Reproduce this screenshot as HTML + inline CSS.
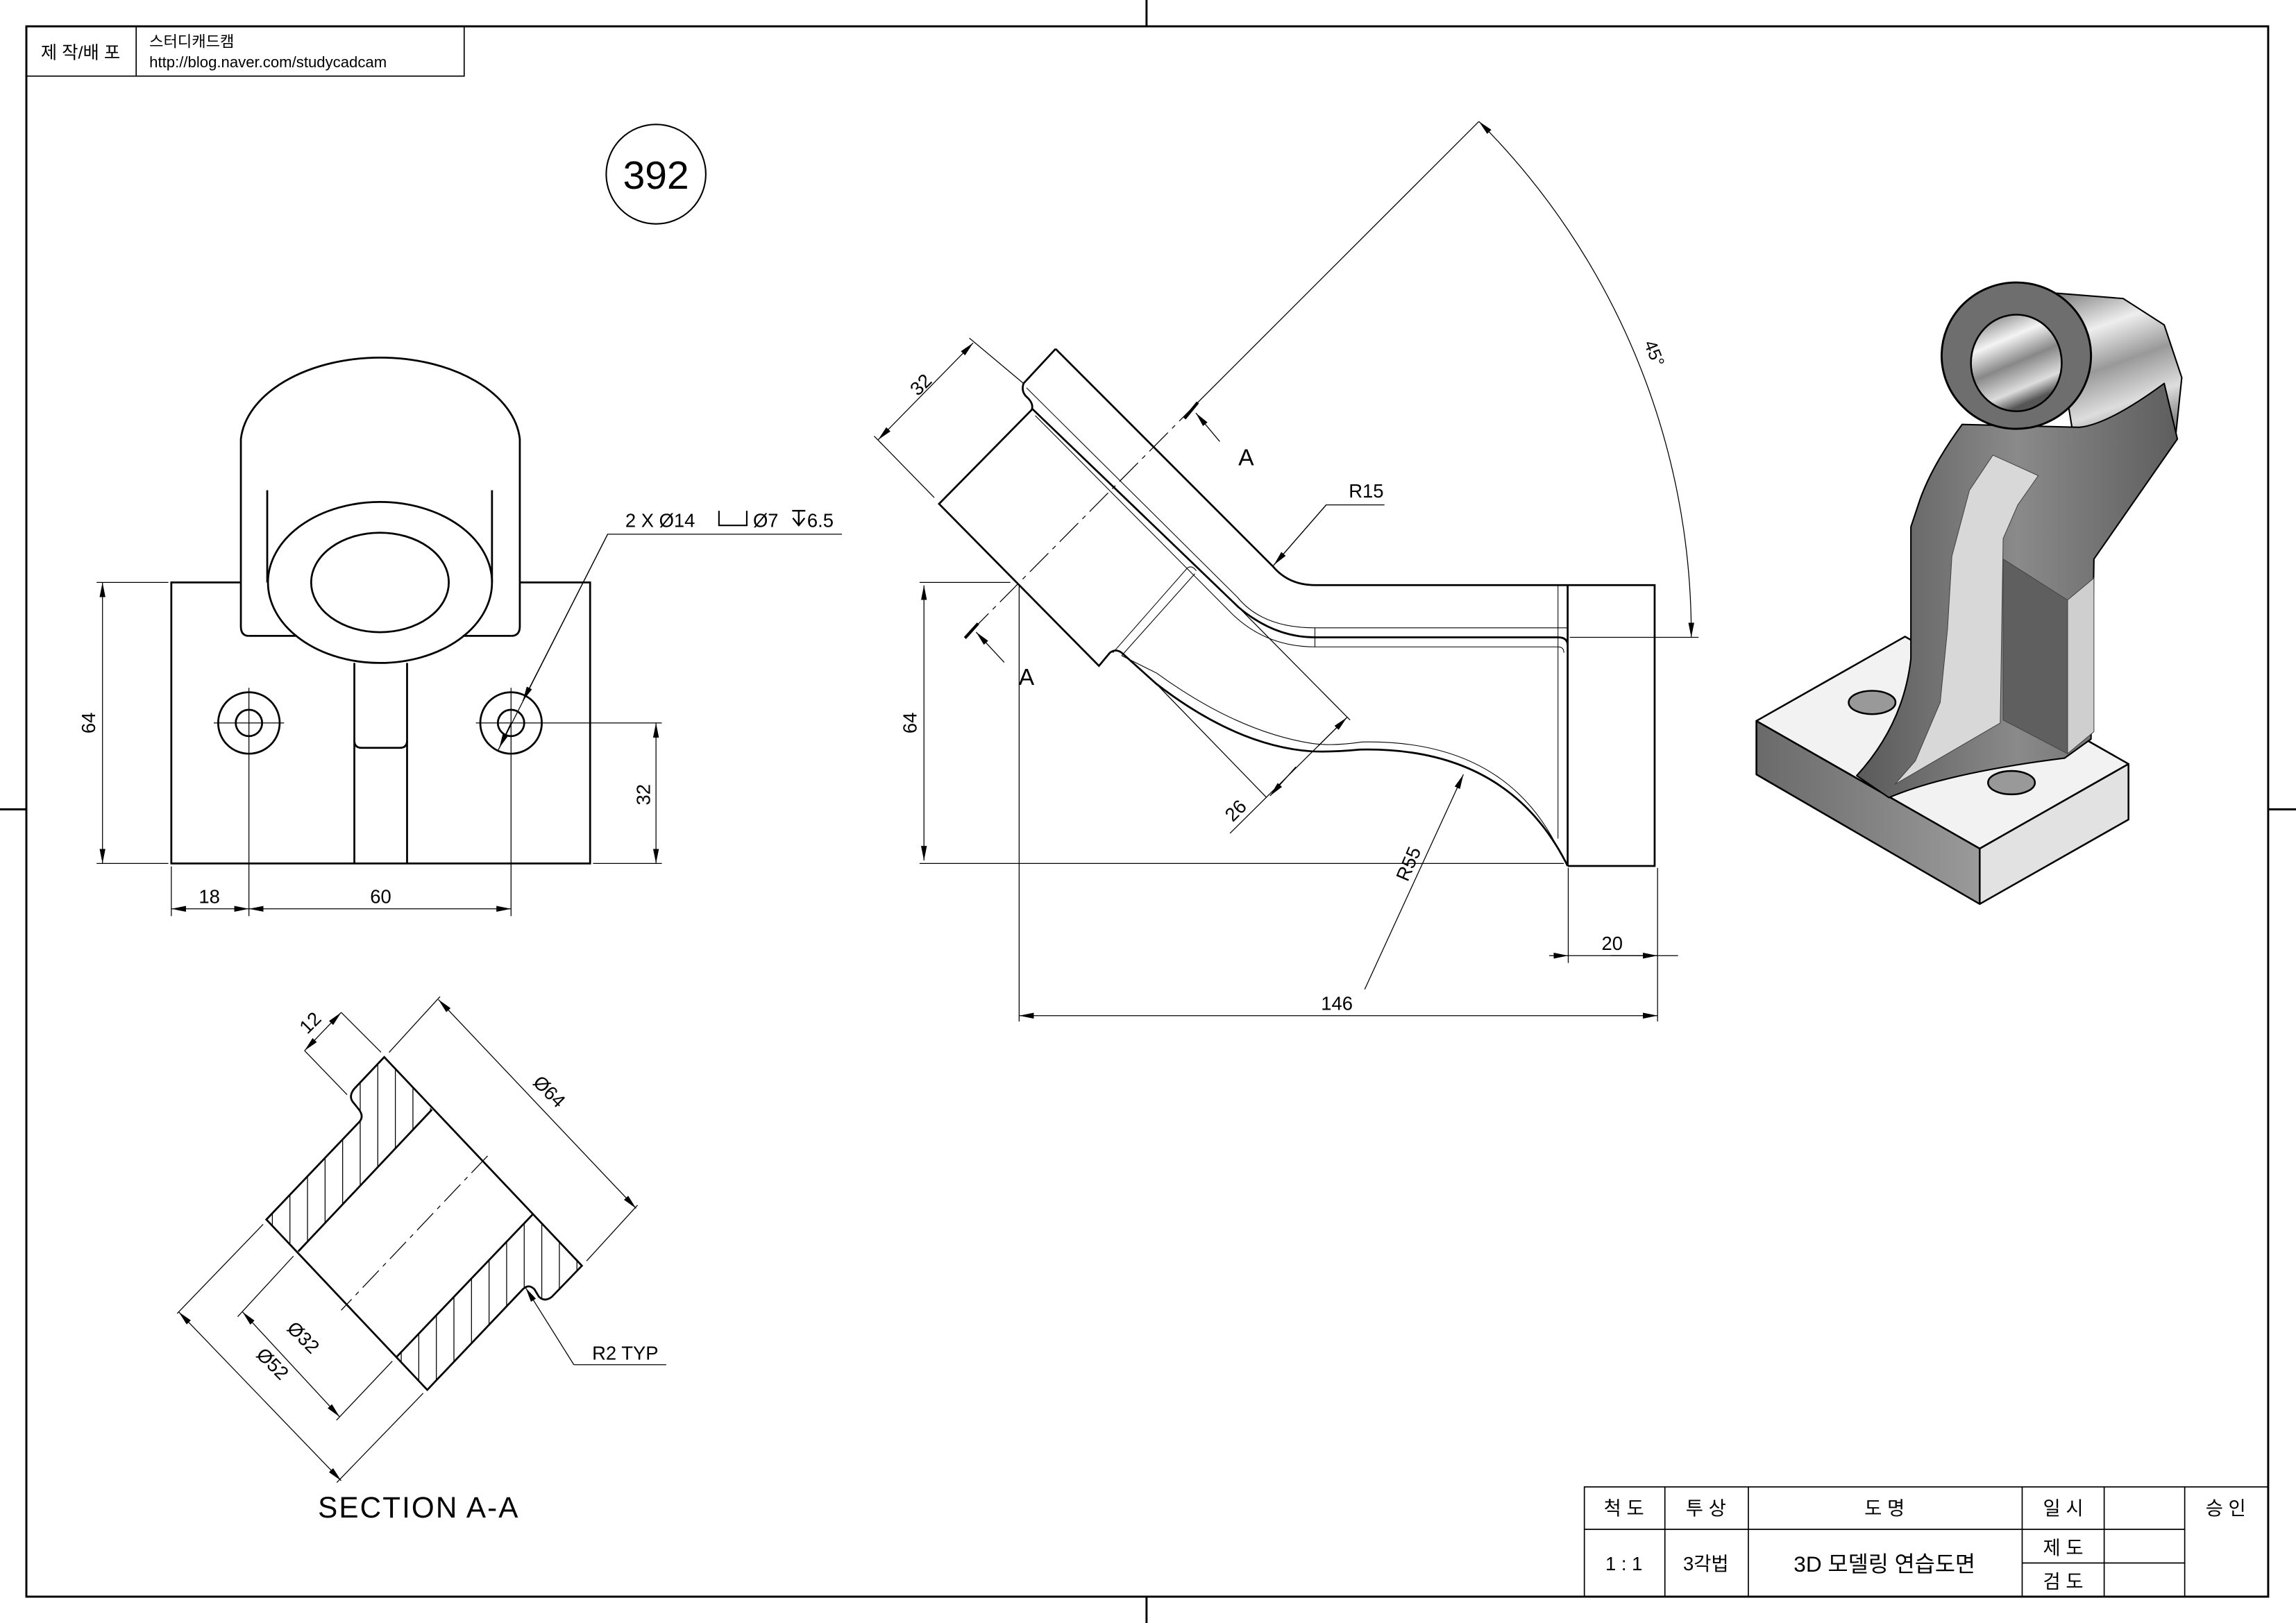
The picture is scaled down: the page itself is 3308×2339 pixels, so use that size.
<!DOCTYPE html>
<html><head><meta charset="utf-8"><style>
html,body{margin:0;padding:0;background:#fff;}
svg{display:block;}
text{font-family:"Liberation Sans","Noto Sans CJK KR",sans-serif;fill:#000;}
</style></head><body>
<svg width="3308" height="2339" viewBox="0 0 1568 1109" preserveAspectRatio="none" xmlns="http://www.w3.org/2000/svg">
<defs>
<marker id="ar" viewBox="0 0 10 4" refX="10" refY="2" markerWidth="10" markerHeight="4" markerUnits="userSpaceOnUse" orient="auto-start-reverse"><path d="M0,0 L10,2 L0,4 z" fill="#000"/></marker>
<linearGradient id="gArm" x1="0" y1="0" x2="1" y2="0"><stop offset="0" stop-color="#5a5a5a"/><stop offset="0.5" stop-color="#8a8a8a"/><stop offset="1" stop-color="#5e5e5e"/></linearGradient>
<linearGradient id="gCyl" x1="0" y1="0" x2="0.3" y2="1"><stop offset="0" stop-color="#777"/><stop offset="0.3" stop-color="#eee"/><stop offset="0.55" stop-color="#999"/><stop offset="0.8" stop-color="#ddd"/><stop offset="1" stop-color="#888"/></linearGradient>
<linearGradient id="gBore" x1="0" y1="0" x2="0.4" y2="1"><stop offset="0" stop-color="#666"/><stop offset="0.35" stop-color="#f4f4f4"/><stop offset="0.6" stop-color="#888"/><stop offset="0.85" stop-color="#ddd"/><stop offset="1" stop-color="#555"/></linearGradient>
<linearGradient id="gFront" x1="0" y1="0" x2="1" y2="0"><stop offset="0" stop-color="#6a6a6a"/><stop offset="1" stop-color="#9a9a9a"/></linearGradient>
<clipPath id="h1"><polygon points="262.4,722.3 241.8,744.1 239.6,749.5 246.1,760.3 247.2,764.6 181.9,833.3 203.7,855.1 295,758.2"/></clipPath>
<clipPath id="h2"><polygon points="271.1,926.9 291.8,949.7 357.8,880 364,881 368,887 372,889 378,886 397.4,864.9 363.6,830"/></clipPath>
</defs>

<!-- sheet border -->
<rect x="18" y="18" width="1531" height="1073" fill="none" stroke="#000" stroke-width="1.4"/>
<g stroke="#000" stroke-width="1.4">
<line x1="783" y1="0" x2="783" y2="18"/><line x1="783" y1="1091" x2="783" y2="1109"/>
<line x1="0" y1="553" x2="18" y2="553"/><line x1="1549" y1="553" x2="1568" y2="553"/>
</g>

<!-- header -->
<rect x="18" y="18" width="299" height="34" fill="none" stroke="#000" stroke-width="0.8"/>
<line x1="93" y1="18" x2="93" y2="52" stroke="#000" stroke-width="0.8"/>
<text x="55" y="40" font-size="12" text-anchor="middle">제 작/배 포</text>
<text x="102" y="32" font-size="10.5">스터디캐드캠</text>
<text x="102" y="46" font-size="10.5">http://blog.naver.com/studycadcam</text>

<!-- 392 -->
<circle cx="448" cy="119" r="34" fill="none" stroke="#000" stroke-width="1"/>
<text x="448" y="129" font-size="27" text-anchor="middle">392</text>

<!-- FRONT VIEW -->
<g fill="none" stroke="#000" stroke-width="1.3">
<path d="M164.5,398 L117,398 L117,590 L403,590 L403,398 L355,398"/>
<path d="M170,434.5 Q164.5,434.5 164.5,428 L164.5,300 A95.5,60 0 0,1 355,300 L355,428 Q355,434.5 349,434.5"/>
<line x1="170" y1="434.5" x2="202" y2="434.5"/><line x1="316" y1="434.5" x2="349" y2="434.5"/>
<line x1="182.5" y1="335" x2="182.5" y2="398"/><line x1="336" y1="335" x2="336" y2="398"/>
<ellipse cx="259.5" cy="398" rx="76.5" ry="55"/>
<ellipse cx="259.5" cy="398" rx="47" ry="34"/>
<line x1="242" y1="453" x2="242" y2="590"/><line x1="278" y1="453" x2="278" y2="590"/>
<path d="M242,506 Q242,511 247,511 L273,511 Q278,511 278,506"/>
<circle cx="170" cy="494" r="21"/><circle cx="170" cy="494" r="9"/>
<circle cx="349" cy="494" r="21"/><circle cx="349" cy="494" r="9"/>
</g>
<g fill="none" stroke="#000" stroke-width="0.6">
<line x1="170" y1="470" x2="170" y2="626"/><line x1="146" y1="494" x2="194" y2="494"/>
<line x1="349" y1="470" x2="349" y2="626"/><line x1="325" y1="494" x2="452" y2="494"/>
<line x1="66" y1="398" x2="115" y2="398"/><line x1="66" y1="590" x2="115" y2="590"/>
<line x1="70" y1="398" x2="70" y2="590" marker-start="url(#ar)" marker-end="url(#ar)"/>
<line x1="448" y1="494" x2="448" y2="590" marker-start="url(#ar)" marker-end="url(#ar)"/>
<line x1="405" y1="590" x2="452" y2="590"/>
<line x1="117" y1="592" x2="117" y2="626"/>
<line x1="117" y1="621" x2="170" y2="621" marker-start="url(#ar)" marker-end="url(#ar)"/>
<line x1="170" y1="621" x2="349" y2="621" marker-start="url(#ar)" marker-end="url(#ar)"/>
<polyline points="340,513 415,365 575,365"/>
<line x1="349" y1="494" x2="341" y2="511" marker-end="url(#ar)"/>
<line x1="415" y1="365" x2="357" y2="479" marker-end="url(#ar)"/>
</g>
<text x="65" y="494" font-size="13" text-anchor="middle" transform="rotate(-90 65 494)">64</text>
<text x="444" y="543" font-size="13" text-anchor="middle" transform="rotate(-90 444 543)">32</text>
<text x="143" y="617" font-size="13" text-anchor="middle">18</text>
<text x="260" y="617" font-size="13" text-anchor="middle">60</text>
<text x="427" y="360" font-size="13">2 X Ø14 <tspan dx="36">Ø7 </tspan><tspan dx="16">6.5</tspan></text>
<path d="M491,349 L491,359 L510,359 L510,349" fill="none" stroke="#000" stroke-width="1"/>
<g stroke="#000" stroke-width="1.1" fill="none"><line x1="541" y1="349" x2="550" y2="349"/><line x1="545.5" y1="349" x2="545.5" y2="359"/><path d="M541.5,354 L545.5,359 L549.5,354"/></g>

<!-- SIDE VIEW -->
<g fill="none" stroke="#000" stroke-width="1.3">
<path d="M720.9,238.4 L869.2,386.9 Q880,399.8 898,399.8 L1130,399.8 L1130,591.7 L1070.6,591.7"/>
<line x1="1070.6" y1="399.8" x2="1070.6" y2="591.7"/>
<path d="M720.9,238.4 L699,262 Q697,268 702,272 Q706,276 704.6,280 L641.3,344.3 L750.5,455 L758,446 Q762,443 766,446 L789.6,467.2 Q845,510 896,513.4 Q910,514 928.8,512.2 Q1030,510 1070.6,591.7"/>
<path d="M704.6,279 L845.7,414.8 Q870,435.5 898,435.5 L1064,435.5 Q1070.6,435.5 1070.6,441"/>
</g>
<g fill="none" stroke="#000" stroke-width="0.5">
<path d="M701,265 L845,408 Q862,429 898,429 L1070,429"/>
<path d="M707,284 L842,420 Q865,442 898,442 L1064,442 Q1068,442 1068,446"/>
<line x1="898" y1="429" x2="898" y2="442"/>
<line x1="1064" y1="399.8" x2="1064" y2="573"/>
<path d="M760,446 L811,388 Q814,386 817,390"/>
<path d="M766,448 L816,392"/>
<path d="M766,448 L790,460 Q845,500 896,508 Q910,510 930,507 Q1030,505 1066,584"/>
</g>
<!-- side dims -->
<g fill="none" stroke="#000" stroke-width="0.6">
<line x1="1010" y1="83" x2="818" y2="275"/>
<line x1="818" y1="275" x2="659" y2="435.5" stroke-dasharray="18,4,3,4"/>
<path d="M1010,83 A496,496 0 0,1 1155,435.5" marker-start="url(#ar)" marker-end="url(#ar)"/>
<line x1="1072" y1="435.5" x2="1160" y2="435.5"/>
<line x1="664.6" y1="234.3" x2="599.7" y2="300.5" marker-start="url(#ar)" marker-end="url(#ar)"/>
<line x1="662" y1="231" x2="699" y2="262"/>
<line x1="597" y1="298" x2="638" y2="340"/>
<polyline points="869.2,386.9 905.7,345 945.5,345"/>
<line x1="905.7" y1="345" x2="870" y2="386" marker-end="url(#ar)"/>
<line x1="845.7" y1="414.8" x2="922" y2="492"/>
<line x1="789.6" y1="467.2" x2="865" y2="545"/>
<line x1="919.8" y1="490.3" x2="840" y2="569.4"/>
<line x1="900" y1="510" x2="919.8" y2="490.3" marker-end="url(#ar)"/>
<line x1="885" y1="524" x2="867.4" y2="543.8" marker-end="url(#ar)"/>
<line x1="932" y1="676" x2="999.4" y2="529.2" marker-end="url(#ar)"/>
<line x1="628" y1="398" x2="690" y2="398"/><line x1="628" y1="590" x2="1068" y2="590"/>
<line x1="631" y1="400" x2="631" y2="588" marker-start="url(#ar)" marker-end="url(#ar)"/>
<line x1="696" y1="400" x2="696" y2="698"/>
<line x1="1132" y1="593" x2="1132" y2="698"/>
<line x1="1071" y1="593" x2="1071" y2="658"/>
<line x1="1058" y1="653" x2="1071" y2="653" marker-end="url(#ar)"/>
<line x1="1071" y1="653" x2="1146" y2="653"/>
<line x1="1132" y1="653" x2="1132" y2="653"/>
<line x1="1100" y1="653" x2="1132" y2="653" marker-end="url(#ar)"/>
<line x1="696" y1="694" x2="1132" y2="694" marker-start="url(#ar)" marker-end="url(#ar)"/>
<line x1="833" y1="301.7" x2="816.7" y2="282.2" marker-end="url(#ar)"/>
<line x1="685.8" y1="452.6" x2="666.6" y2="431.9" marker-end="url(#ar)"/>
</g>
<g stroke="#000" stroke-width="2"><line x1="818" y1="275" x2="809" y2="286"/><line x1="668" y1="426" x2="659" y2="436"/></g>
<text x="851" y="318" font-size="16" text-anchor="middle">A</text>
<text x="701" y="468" font-size="16" text-anchor="middle">A</text>
<text x="632" y="266" font-size="13" text-anchor="middle" transform="rotate(-45 632 266)">32</text>
<text x="1126" y="243" font-size="12" text-anchor="middle" transform="rotate(68 1126 243)">45°</text>
<text x="933" y="340" font-size="13" text-anchor="middle">R15</text>
<text x="847" y="557" font-size="13" text-anchor="middle" transform="rotate(-45 847 557)">26</text>
<text x="966" y="592" font-size="13" text-anchor="middle" transform="rotate(-67 966 592)">R55</text>
<text x="626" y="494" font-size="13" text-anchor="middle" transform="rotate(-90 626 494)">64</text>
<text x="1101" y="649" font-size="13" text-anchor="middle">20</text>
<text x="913" y="690" font-size="13" text-anchor="middle">146</text>

<!-- SECTION A-A -->
<g clip-path="url(#h1)" stroke="#000" stroke-width="0.6">
<line x1="186" y1="700" x2="186" y2="960"/><line x1="198" y1="700" x2="198" y2="960"/><line x1="210" y1="700" x2="210" y2="960"/><line x1="222" y1="700" x2="222" y2="960"/><line x1="234" y1="700" x2="234" y2="960"/><line x1="246" y1="700" x2="246" y2="960"/><line x1="258" y1="700" x2="258" y2="960"/><line x1="270" y1="700" x2="270" y2="960"/><line x1="282" y1="700" x2="282" y2="960"/><line x1="294" y1="700" x2="294" y2="960"/>
</g>
<g clip-path="url(#h2)" stroke="#000" stroke-width="0.6">
<line x1="274" y1="800" x2="274" y2="960"/><line x1="286" y1="800" x2="286" y2="960"/><line x1="298" y1="800" x2="298" y2="960"/><line x1="310" y1="800" x2="310" y2="960"/><line x1="322" y1="800" x2="322" y2="960"/><line x1="334" y1="800" x2="334" y2="960"/><line x1="346" y1="800" x2="346" y2="960"/><line x1="358" y1="800" x2="358" y2="960"/><line x1="370" y1="800" x2="370" y2="960"/><line x1="382" y1="800" x2="382" y2="960"/><line x1="394" y1="800" x2="394" y2="960"/>
</g>
<g fill="none" stroke="#000" stroke-width="1.3">
<path d="M262.4,722.3 L241.8,744.1 Q238,749 241,753 L245,758 Q249,763 245,767 L181.9,833.3 L291.8,949.7 L357,881 Q361,877 365,881 L368,886 Q372,890 377,886 L397.4,864.9 Z"/>
<line x1="203.7" y1="855.1" x2="295" y2="758.2"/>
<line x1="271.1" y1="926.9" x2="363.6" y2="830"/>
</g>
<g fill="none" stroke="#000" stroke-width="0.6">
<line x1="333" y1="789.8" x2="233" y2="895.3" stroke-dasharray="16,4,3,4"/>
<line x1="233" y1="691.8" x2="260.2" y2="719"/><line x1="208" y1="717.9" x2="237" y2="748"/>
<line x1="233" y1="691.8" x2="208" y2="717.9" marker-start="url(#ar)" marker-end="url(#ar)"/>
<line x1="265.7" y1="719.1" x2="300.5" y2="681"/><line x1="400.6" y1="861.6" x2="435.4" y2="823.5"/>
<line x1="299.4" y1="683" x2="434.4" y2="825.7" marker-start="url(#ar)" marker-end="url(#ar)"/>
<line x1="200.4" y1="858.3" x2="162.3" y2="899.7"/><line x1="267.9" y1="930.1" x2="229.8" y2="970.4"/>
<line x1="165.6" y1="896.4" x2="232" y2="968.2" marker-start="url(#ar)" marker-end="url(#ar)"/>
<line x1="179.7" y1="836.6" x2="121" y2="897.5"/><line x1="289" y1="952" x2="230" y2="1013"/>
<line x1="122" y1="896.4" x2="233" y2="1011.8" marker-start="url(#ar)" marker-end="url(#ar)"/>
<polyline points="391.9,932.5 455,932.5"/>
<line x1="391.9" y1="932.5" x2="359" y2="880" marker-end="url(#ar)"/>
</g>
<text x="215" y="702" font-size="13" text-anchor="middle" transform="rotate(-45 215 702)">12</text>
<text x="372" y="749" font-size="13" text-anchor="middle" transform="rotate(45 372 749)">Ø64</text>
<text x="204" y="917" font-size="13" text-anchor="middle" transform="rotate(45 204 917)">Ø32</text>
<text x="183" y="935" font-size="13" text-anchor="middle" transform="rotate(45 183 935)">Ø52</text>
<text x="427" y="929" font-size="13" text-anchor="middle">R2 TYP</text>
<text x="286" y="1037" font-size="20" text-anchor="middle" letter-spacing="1">SECTION A-A</text>

<!-- ISOMETRIC -->
<g stroke="#000" stroke-width="1.2" stroke-linejoin="round">
<polygon points="1199.5,492.6 1352,579.8 1352,617.7 1199.5,529.2" fill="url(#gFront)"/>
<polygon points="1352,579.8 1453.6,522 1453.6,560 1352,617.7" fill="#e2e2e2"/>
<polygon points="1199.5,492.6 1301,435 1453.6,522 1352,579.8" fill="#f2f2f2"/>
<ellipse cx="1278.5" cy="480" rx="16" ry="8" fill="#999"/>
<ellipse cx="1373.7" cy="534.8" rx="16" ry="8" fill="#999"/>
<polygon points="1400,200 1450,204 1478,222 1490,258 1486,296 1460,308 1415,292" fill="url(#gCyl)" stroke-width="1"/>
<path d="M1340,290 Q1318,320 1310,345 L1305,360 L1305,450 Q1300,495 1268,530 L1290,545 Q1330,528 1410,518 L1428,505 L1430,382 L1487,300 L1478,262 Q1440,290 1420,292 Z" fill="url(#gArm)" stroke-width="1"/>
</g>
<polygon points="1361,311 1392,325 1378,345 1368,368 1366,494 1294,536 1308,520 1325,480 1330,430 1333,380 1345,335" fill="#d8d8d8" stroke="#444" stroke-width="0.5"/>
<polygon points="1412,410 1430,395 1430,500 1412,515" fill="#cfcfcf" stroke="#444" stroke-width="0.5"/>
<polygon points="1368,382 1412,410 1412,515 1368,492" fill="#5f5f5f" stroke="#444" stroke-width="0.5"/>
<ellipse cx="1377" cy="243" rx="51" ry="50" fill="#6e6e6e" stroke="#000" stroke-width="1.4"/>
<ellipse cx="1377" cy="248" rx="31" ry="33" fill="url(#gBore)" stroke="#000" stroke-width="1.2"/>

<!-- TITLE BLOCK -->
<g fill="none" stroke="#000" stroke-width="0.8">
<rect x="1082" y="1016" width="467" height="75"/>
<line x1="1137" y1="1016" x2="1137" y2="1091"/><line x1="1194" y1="1016" x2="1194" y2="1091"/>
<line x1="1381" y1="1016" x2="1381" y2="1091"/><line x1="1437" y1="1016" x2="1437" y2="1091"/>
<line x1="1492" y1="1016" x2="1492" y2="1091"/>
<line x1="1082" y1="1045" x2="1492" y2="1045"/><line x1="1381" y1="1068" x2="1492" y2="1068"/>
</g>
<g font-size="13" text-anchor="middle">
<text x="1109" y="1035">척  도</text><text x="1165" y="1035">투  상</text>
<text x="1287" y="1035">도        명</text><text x="1409" y="1035">일  시</text>
<text x="1520" y="1035">승  인</text>
<text x="1109" y="1073">1 : 1</text><text x="1165" y="1073">3각법</text>
<text x="1287" y="1074" font-size="15">3D 모델링 연습도면</text>
<text x="1409" y="1062">제  도</text><text x="1409" y="1085">검  도</text>
</g>
</svg>
</body></html>
